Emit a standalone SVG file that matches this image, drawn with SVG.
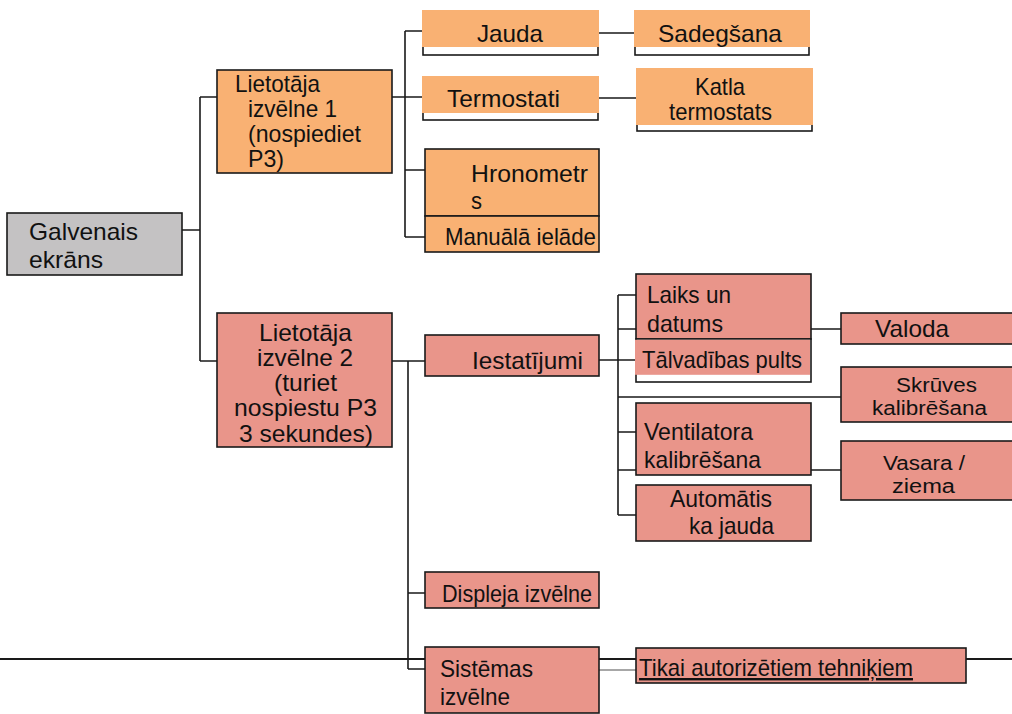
<svg xmlns="http://www.w3.org/2000/svg" width="1012" height="714" viewBox="0 0 1012 714">
<style>
.bx{stroke:#1a1a1a;stroke-width:1.6}
.ol{fill:#ffffff;stroke:#1a1a1a;stroke-width:1.6}
.gr{fill:#c4c2c3}
.or{fill:#f9b173}
.sa{fill:#e9958a}
.cn{fill:none;stroke:#1a1a1a;stroke-width:1.6}
text{font-family:"Liberation Sans",Arial,sans-serif;font-size:24px;fill:#111111}
text.sm{font-size:20px}
</style>
<rect width="1012" height="714" fill="#ffffff"/>
<line x1="0" y1="659" x2="1012" y2="659" stroke="#1a1a1a" stroke-width="2.2"/>
<g id="connectors" class="cn">
<path d="M182,230 H200 M200,97 V361 M200,97 H217 M200,361 H217"/>
<path d="M405,31 V237 M405,31 H423 M392,97 H423 M405,170 H425 M405,237 H425"/>
<path d="M598,33 H635 M598,98 H637"/>
<path d="M392,361 H425 M408,361 V669 M408,593 H425 M408,669 H425"/>
<path d="M599,360 H636 M618,295 V515 M618,295 H636 M618,329 H636 M618,397 H841 M618,432 H636 M618,470 H636 M618,515 H636"/>
<path d="M811,329 H841 M811,470 H841"/>
<path d="M599,670 H636" stroke="#8a8a8a"/>
</g>
<g id="galvenais">
<rect class="bx gr" x="7" y="213" width="175" height="62"/>
<text x="29" y="240" textLength="109" lengthAdjust="spacingAndGlyphs">Galvenais</text>
<text x="29" y="268" textLength="74" lengthAdjust="spacingAndGlyphs">ekrāns</text>
</g>
<g id="lietotaja1">
<rect class="bx or" x="217" y="70" width="175" height="103"/>
<text x="235" y="92" textLength="85" lengthAdjust="spacingAndGlyphs">Lietotāja</text>
<text x="248" y="117" textLength="89" lengthAdjust="spacingAndGlyphs">izvēlne 1</text>
<text x="248" y="142" textLength="113" lengthAdjust="spacingAndGlyphs">(nospiediet</text>
<text x="248" y="167" textLength="36" lengthAdjust="spacingAndGlyphs">P3)</text>
</g>
<g id="jauda">
<rect class="ol" x="423" y="11" width="175" height="44"/>
<rect class="or" x="422" y="10" width="177" height="37"/>
<text x="477" y="42" textLength="66" lengthAdjust="spacingAndGlyphs">Jauda</text>
</g>
<g id="sadegsana">
<rect class="ol" x="635" y="11" width="174" height="44"/>
<rect class="or" x="634" y="10" width="176" height="37"/>
<text x="658" y="42" textLength="124" lengthAdjust="spacingAndGlyphs">Sadegšana</text>
</g>
<g id="termostati">
<rect class="ol" x="423" y="77" width="175" height="43"/>
<rect class="or" x="422" y="76" width="177" height="37"/>
<text x="447" y="107" textLength="113" lengthAdjust="spacingAndGlyphs">Termostati</text>
</g>
<g id="katla">
<rect class="ol" x="637" y="69" width="175" height="62"/>
<rect class="or" x="636" y="68" width="177" height="57"/>
<text x="695" y="95" textLength="50" lengthAdjust="spacingAndGlyphs">Katla</text>
<text x="669" y="120" textLength="103" lengthAdjust="spacingAndGlyphs">termostats</text>
</g>
<g id="hronometrs">
<rect class="bx or" x="425" y="149" width="174" height="67"/>
<text x="471" y="182" textLength="117" lengthAdjust="spacingAndGlyphs">Hronometr</text>
<text x="471" y="209" textLength="11" lengthAdjust="spacingAndGlyphs">s</text>
</g>
<g id="manuala">
<rect class="bx or" x="425" y="216" width="174" height="36"/>
<text x="445" y="245" textLength="151" lengthAdjust="spacingAndGlyphs">Manuālā ielāde</text>
</g>
<g id="lietotaja2">
<rect class="bx sa" x="217" y="313" width="175" height="134"/>
<text x="259" y="341" textLength="93" lengthAdjust="spacingAndGlyphs">Lietotāja</text>
<text x="257" y="366" textLength="96" lengthAdjust="spacingAndGlyphs">izvēlne 2</text>
<text x="274" y="391" textLength="63" lengthAdjust="spacingAndGlyphs">(turiet</text>
<text x="234" y="416" textLength="143" lengthAdjust="spacingAndGlyphs">nospiestu P3</text>
<text x="239" y="442" textLength="134" lengthAdjust="spacingAndGlyphs">3 sekundes)</text>
</g>
<g id="iestatijumi">
<rect class="bx sa" x="425" y="335" width="174" height="41"/>
<text x="472" y="369" textLength="111" lengthAdjust="spacingAndGlyphs">Iestatījumi</text>
</g>
<g id="laiks">
<rect class="bx sa" x="636" y="274" width="175" height="65"/>
<text x="647" y="303" textLength="84" lengthAdjust="spacingAndGlyphs">Laiks un</text>
<text x="647" y="332" textLength="76" lengthAdjust="spacingAndGlyphs">datums</text>
</g>
<g id="talvadibas">
<rect class="ol" x="636" y="339" width="175" height="43"/>
<rect class="sa" x="635" y="339.8" width="175" height="35"/>
<text x="642" y="368" textLength="160" lengthAdjust="spacingAndGlyphs">Tālvadības pults</text>
</g>
<g id="valoda">
<rect class="bx sa" x="841" y="313" width="190" height="31"/>
<text x="875" y="337" textLength="74" lengthAdjust="spacingAndGlyphs">Valoda</text>
</g>
<g id="skruves">
<rect class="bx sa" x="841" y="367" width="190" height="55"/>
<text class="sm" x="896" y="392" textLength="81" lengthAdjust="spacingAndGlyphs">Skrūves</text>
<text class="sm" x="872" y="415" textLength="115" lengthAdjust="spacingAndGlyphs">kalibrēšana</text>
</g>
<g id="ventilatora">
<rect class="bx sa" x="636" y="403" width="175" height="72"/>
<text x="644" y="440" textLength="109" lengthAdjust="spacingAndGlyphs">Ventilatora</text>
<text x="644" y="468" textLength="117" lengthAdjust="spacingAndGlyphs">kalibrēšana</text>
</g>
<g id="vasara">
<rect class="bx sa" x="841" y="441" width="190" height="59"/>
<text class="sm" x="883" y="470" textLength="82" lengthAdjust="spacingAndGlyphs">Vasara /</text>
<text class="sm" x="892" y="493" textLength="63" lengthAdjust="spacingAndGlyphs">ziema</text>
</g>
<g id="automatiska">
<rect class="bx sa" x="636" y="485" width="175" height="56"/>
<text x="670" y="507" textLength="102" lengthAdjust="spacingAndGlyphs">Automātis</text>
<text x="689" y="534" textLength="85" lengthAdjust="spacingAndGlyphs">ka jauda</text>
</g>
<g id="displeja">
<rect class="bx sa" x="425" y="572" width="174" height="36"/>
<text x="442" y="602" textLength="150" lengthAdjust="spacingAndGlyphs">Displeja izvēlne</text>
</g>
<g id="sistemas">
<rect class="bx sa" x="425" y="647" width="174" height="66"/>
<text x="440" y="677" textLength="93" lengthAdjust="spacingAndGlyphs">Sistēmas</text>
<text x="440" y="705" textLength="70" lengthAdjust="spacingAndGlyphs">izvēlne</text>
</g>
<g id="tikai">
<rect class="bx sa" x="636" y="648" width="330" height="35"/>
<text x="639" y="676" textLength="274" lengthAdjust="spacingAndGlyphs" text-decoration="underline">Tikai autorizētiem tehniķiem</text>
</g>
</svg>
